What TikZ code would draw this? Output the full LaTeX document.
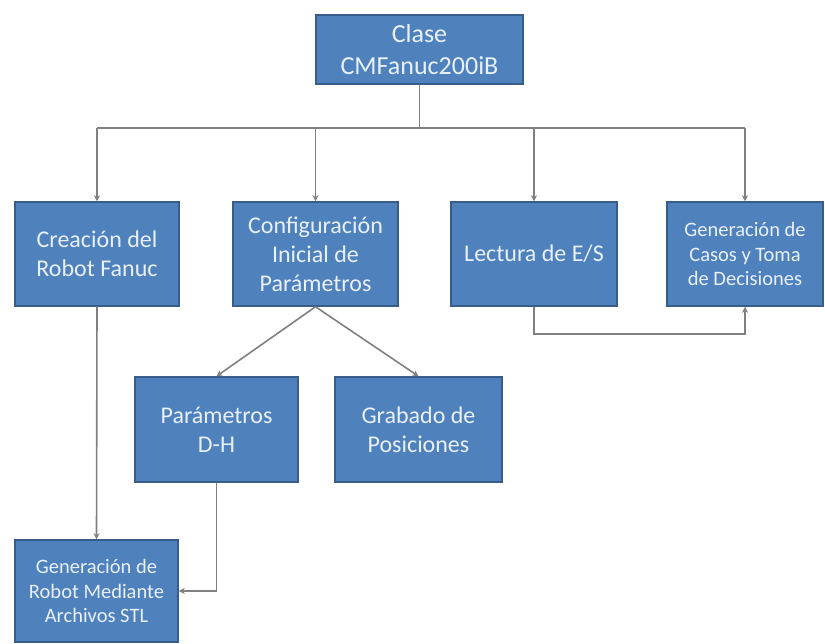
\documentclass[tikz,border=0pt]{standalone}
\usepackage{fontspec}
\setmainfont{Carlito}
\usetikzlibrary{arrows.meta}
\definecolor{boxfill}{RGB}{79,129,189}
\definecolor{boxline}{RGB}{56,93,138}
\definecolor{txtc}{RGB}{232,240,250}
\definecolor{connc}{RGB}{128,128,128}
\begin{document}
\begin{tikzpicture}[x=1pt,y=-1pt,
  box/.style={draw=boxline, line width=1.5pt, fill=boxfill, text=txtc, align=center, inner sep=0pt},
  bigtext/.style={font=\fontsize{24}{29}\selectfont},
  toptext/.style={font=\fontsize{26}{32}\selectfont},
  smalltext/.style={font=\fontsize{20.5}{24.5}\selectfont},
  conn/.style={draw=connc, line width=1.6pt},
  arr/.style={conn, -{Stealth[length=6pt,width=6pt]}}]
\useasboundingbox (0,0) rectangle (825,644);

\node[box, toptext, minimum width=207pt, minimum height=69pt] (top) at (419.5,49.5) {Clase\\CMFanuc200iB};

\node[box, bigtext, minimum width=164pt, minimum height=104pt] (creacion) at (97,254) {Creación del\\Robot Fanuc};
\node[box, bigtext, minimum width=165pt, minimum height=104pt] (config) at (315.5,254) {Configuración\\Inicial de\\Parámetros};
\node[box, bigtext, minimum width=166pt, minimum height=104pt] (lectura) at (534,254) {Lectura de E/S};
\node[box, smalltext, minimum width=156pt, minimum height=104pt] (casos) at (745,254) {Generación de\\Casos y Toma\\de Decisiones};

\node[box, bigtext, minimum width=163pt, minimum height=105pt] (dh) at (216.5,429.5) {Parámetros\\D-H};
\node[box, bigtext, minimum width=167pt, minimum height=105pt] (grabado) at (418.5,429.5) {Grabado de\\Posiciones};

\node[box, smalltext, minimum width=163pt, minimum height=102pt] (genrobot) at (96.5,591) {Generación de\\Robot Mediante\\Archivos STL};

\coordinate (bus) at (419.5,128);
\draw[conn] (top.south) -- (bus);
\draw[conn] (creacion.north |- bus) -- (casos.north |- bus);
\draw[arr] (creacion.north |- bus) -- (creacion.north);
\draw[arr] (config.north |- bus) -- (config.north);
\draw[arr] (lectura.north |- bus) -- (lectura.north);
\draw[arr] (casos.north |- bus) -- (casos.north);

\draw[arr] (config.south) -- (dh.north);
\draw[arr] (config.south) -- (grabado.north);

\draw[arr] (creacion.south) -- (genrobot.north);
\draw[arr] (dh.south) |- (genrobot.east);
\draw[arr] (lectura.south) -- ++(0,27) -| (casos.south);
\end{tikzpicture}
\end{document}
